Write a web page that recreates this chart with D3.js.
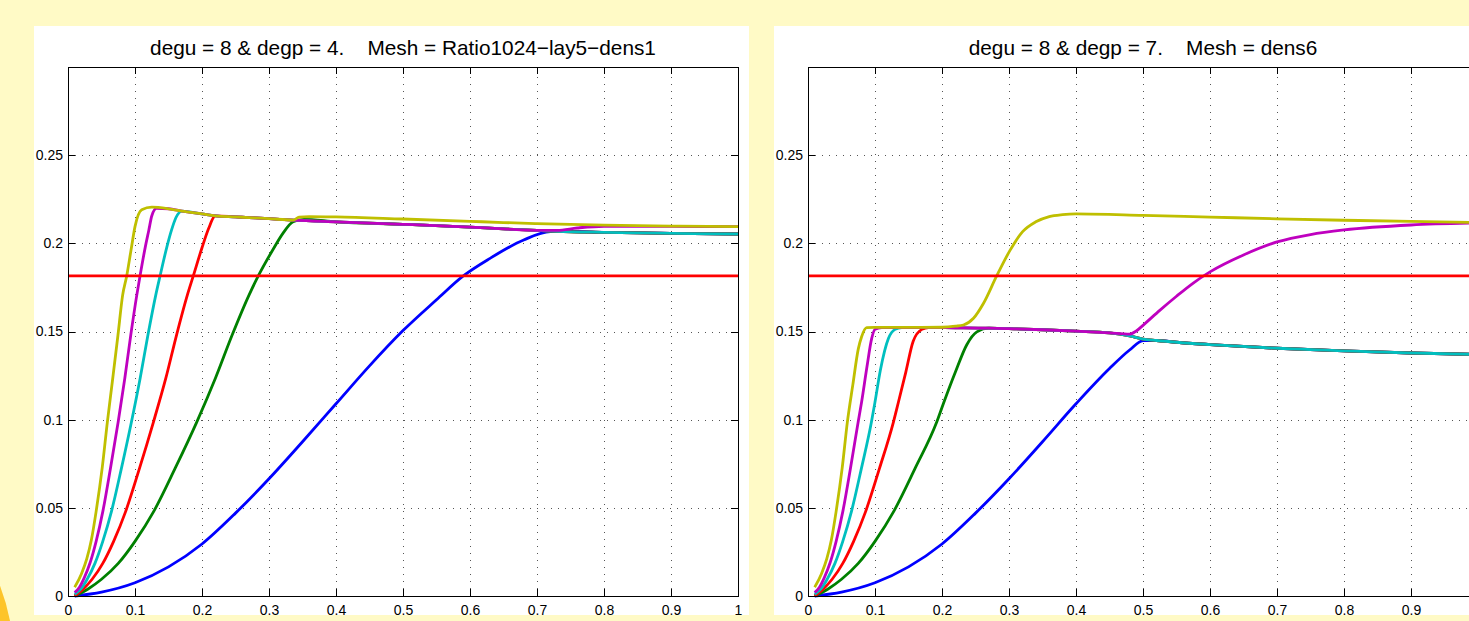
<!DOCTYPE html>
<html>
<head>
<meta charset="utf-8">
<script src="https://cdn.jsdelivr.net/npm/d3@7"></script>
<style>
  body { margin: 0; background: #fffac6; overflow: hidden; }
  svg { display: block; }
  text { font-family: "Liberation Sans", Arial, Helvetica, sans-serif; fill: #000; }
  .grid line { stroke: #555; stroke-dasharray: 1,6; shape-rendering: crispEdges; }
  .grid path { display: none; }
  .ax path { display: none; }
  .ax line { stroke: #000; shape-rendering: crispEdges; }
</style>
</head>
<body>
<div id="fig"></div>
<script>
// axis ticks
var xTicks = [0, 0.1, 0.2, 0.3, 0.4, 0.5, 0.6, 0.7, 0.8, 0.9, 1];
var xTickLabels = ["0", "0.1", "0.2", "0.3", "0.4", "0.5", "0.6", "0.7", "0.8", "0.9", "1"];
var yTicks = [0, 0.05, 0.1, 0.15, 0.2, 0.25];
var yTickLabels = ["0", "0.05", "0.1", "0.15", "0.2", "0.25"];
var yMax = 0.3;
var refLevel = 0.1815;

var titles = [
  "degu = 8 & degp = 4.    Mesh = Ratio1024\u2212lay5\u2212dens1",
  "degu = 8 & degp = 7.    Mesh = dens6"
];
var seriesColors = ["#0000ff", "#008000", "#ff0000", "#00bfbf", "#bf00bf", "#bfbf00"];

// ---- left panel (degp = 4) ----
var blueL = [[0.01,0],[0.05,0.0022],[0.1,0.0075],[0.15,0.0165],[0.2,0.0295],[0.25,0.047],[0.3,0.0665],
  [0.35,0.0875],[0.4,0.109],[0.45,0.1305],[0.5,0.1505],[0.55,0.168],[0.59,0.1815],[0.63,0.1915],
  [0.68,0.2019],[0.72,0.2066],[0.75,0.2067],[0.8,0.2062],[0.9,0.2057],[1.0,0.2053]];
var greenRiseL = [[0.01,0],[0.03,0.004],[0.05,0.0095],[0.075,0.0185],[0.1,0.031],[0.128,0.048],[0.16,0.0725],
  [0.192,0.0985],[0.22,0.1235],[0.245,0.148],[0.27,0.1705],[0.284,0.1815],[0.306,0.1965],[0.321,0.2058],
  [0.336,0.2122],[0.352,0.2136]];
var redRiseL = [[0.01,0],[0.0229,0.004],[0.036,0.0095],[0.0519,0.0185],[0.0681,0.031],[0.0861,0.048],
  [0.1068,0.0725],[0.1274,0.0985],[0.146,0.1235],[0.162,0.148],[0.178,0.1705],[0.187,0.1815],[0.2,0.1975],
  [0.21,0.2085],[0.219,0.2155]];
var cyanRiseL = [[0.01,0.001],[0.0193,0.004],[0.0286,0.0095],[0.0402,0.0185],[0.0519,0.031],[0.0649,0.048],
  [0.0798,0.0725],[0.0946,0.0985],[0.1077,0.1235],[0.1193,0.148],[0.1309,0.1705],[0.1374,0.1815],[0.1476,0.198],
  [0.1546,0.2076],[0.161,0.2145],[0.17,0.2183]];
var magentaRiseL = [[0.01,0.002],[0.0171,0.005],[0.0242,0.0103],[0.0331,0.019],[0.042,0.031],[0.052,0.048],
  [0.0634,0.0725],[0.0748,0.0985],[0.0848,0.1235],[0.0937,0.148],[0.1026,0.1705],[0.1075,0.1815],[0.1154,0.198],
  [0.1207,0.2076],[0.125,0.2155],[0.132,0.2198]];
var yellowRiseL = [[0.01,0.005],[0.02,0.0125],[0.028,0.021],[0.035,0.032],[0.042,0.048],[0.051,0.0725],
  [0.0587,0.0985],[0.0668,0.1235],[0.0746,0.148],[0.0815,0.1705],[0.0876,0.1815],[0.094,0.196],[0.1,0.2095],
  [0.11,0.219],[0.125,0.2205]];
var envL = [[0.15,0.2196],[0.17,0.2183],[0.2,0.2167],[0.22,0.2156],[0.25,0.215],[0.27,0.2146],[0.3,0.214],[0.336,0.2132]];
var lowTailL = [[0.4,0.2122],[0.5,0.2108],[0.6,0.2092],[0.65,0.2082],[0.7,0.2074],[0.73,0.2068],[0.8,0.2062],[0.9,0.2057],[1.0,0.2053]];
var magentaTailL = [[0.4,0.2122],[0.5,0.2108],[0.6,0.2092],[0.65,0.2082],[0.7,0.2074],[0.73,0.2074],[0.76,0.2087],[0.8,0.2097],[0.9,0.2096],[1.0,0.2095]];
var yellowTailL = [[0.345,0.2148],[0.36,0.2152],[0.4,0.215],[0.5,0.2138],[0.6,0.2125],[0.65,0.2118],[0.7,0.2112],[0.8,0.2103],[0.9,0.2098],[1.0,0.2095]];

// ---- right panel (degp = 7) ----
var blueR = [[0.01,0],[0.05,0.0022],[0.1,0.0075],[0.15,0.0165],[0.2,0.0295],[0.25,0.047],[0.3,0.0665],
  [0.35,0.0875],[0.4,0.109],[0.45,0.129],[0.48,0.1395],[0.5,0.1448],[0.52,0.1449]];
var greenRiseR = [[0.01,0],[0.03,0.004],[0.05,0.0095],[0.075,0.0185],[0.1,0.031],[0.128,0.048],[0.16,0.0725],
  [0.192,0.0985],[0.202,0.109],[0.22,0.127],[0.237,0.1425],[0.252,0.1498],[0.27,0.1519]];
var redRiseR = [[0.01,0],[0.0229,0.004],[0.036,0.0095],[0.0519,0.0185],[0.0681,0.031],[0.0861,0.048],
  [0.1068,0.0725],[0.1274,0.0985],[0.135,0.11],[0.146,0.127],[0.157,0.1445],[0.17,0.1512],[0.18,0.1522]];
var cyanRiseR = [[0.01,0.001],[0.0193,0.004],[0.0286,0.0095],[0.0402,0.0185],[0.0519,0.031],[0.0649,0.048],
  [0.0798,0.0725],[0.0946,0.0985],[0.1,0.11],[0.108,0.128],[0.12,0.146],[0.13,0.1512],[0.14,0.1522]];
var magentaRiseR = [[0.01,0.002],[0.0171,0.005],[0.0242,0.0103],[0.0331,0.019],[0.042,0.031],[0.052,0.048],
  [0.0634,0.0725],[0.0748,0.0985],[0.08,0.11],[0.088,0.13],[0.095,0.146],[0.1,0.1512],[0.11,0.1522]];
var yellowR = [[0.01,0.005],[0.02,0.0125],[0.028,0.021],[0.035,0.032],[0.042,0.048],[0.051,0.0725],
  [0.0587,0.0985],[0.067,0.12],[0.075,0.14],[0.08,0.147],[0.0876,0.1522],[0.1,0.1523],[0.15,0.1523],
  [0.2,0.1524],[0.22,0.153],[0.232,0.1537],[0.247,0.1575],[0.262,0.166],[0.2816,0.1815],[0.3015,0.196],
  [0.32,0.2065],[0.34,0.2122],[0.36,0.2152],[0.38,0.2163],[0.4,0.2167],[0.5,0.2159],[0.6,0.2149],
  [0.7,0.2139],[0.8,0.2131],[0.9,0.2124],[1.0,0.2118]];
var envR = [[0.14,0.1522],[0.18,0.1522],[0.22,0.1521],[0.27,0.1519],[0.3,0.1516],[0.35,0.151],[0.4,0.1502],[0.45,0.1492]];
var lowTailR = [[0.48,0.1475],[0.5,0.1457],[0.52,0.1449],[0.55,0.1439],[0.6,0.1426],[0.7,0.1405],[0.8,0.139],[0.9,0.1378],[1.0,0.137]];
var magentaTailR = [[0.48,0.1485],[0.49,0.1503],[0.5,0.1535],[0.525,0.162],[0.55,0.17],[0.575,0.1775],[0.6,0.1838],
  [0.65,0.1934],[0.7,0.2008],[0.75,0.205],[0.8,0.2076],[0.9,0.2104],[1.0,0.2115]];

var fig = {};
(function(context) {

    var W = 1469, H = 621;
    var svg;

    // join a rising part onto the shared envelope and tail
    function after(arr, x0) {
        return arr.filter(function(p) { return p[0] > x0; });
    }
    function build(rise, env, tail) {
        var last = rise[rise.length - 1][0];
        var out = rise.concat(after(env, last));
        var end = out[out.length - 1][0];
        return out.concat(after(tail, end));
    }

    context.init = function(name) {
        svg = d3.select(name).append("svg")
            .attr("width", W)
            .attr("height", H);

        svg.append("rect").attr("width", W).attr("height", H).attr("fill", "#fffac6");
        // gold blob in the bottom-left corner
        svg.append("circle").attr("cx", -200).attr("cy", 662).attr("r", 214).attr("fill", "#fdc42a");
    };

    context.panel = function(box, title, series) {
        var g = svg.append("g");

        g.append("rect")
            .attr("x", box.bx0).attr("y", box.by0)
            .attr("width", box.bx1 - box.bx0).attr("height", box.by1 - box.by0)
            .attr("fill", "#fff");

        var x = d3.scaleLinear().domain([0, 1]).range([box.left, box.right]);
        var y = d3.scaleLinear().domain([0, yMax]).range([box.bottom, box.top]);
        var w = box.right - box.left, h = box.bottom - box.top;

        // dotted grid
        g.append("g").attr("class", "grid")
            .attr("transform", "translate(0," + box.bottom + ")")
            .call(d3.axisBottom(x).tickValues(xTicks.slice(1, -1)).tickSize(-h).tickFormat(""));
        g.append("g").attr("class", "grid")
            .attr("transform", "translate(" + box.left + ",0)")
            .call(d3.axisLeft(y).tickValues(yTicks.slice(1)).tickSize(-w).tickFormat(""));

        var line = d3.line()
            .x(function(d) { return x(d[0]); })
            .y(function(d) { return y(d[1]); })
            .curve(d3.curveMonotoneX);

        g.selectAll("path.curve")
            .data(series)
            .enter()
            .append("path")
            .attr("class", "curve")
            .attr("d", line)
            .attr("fill", "none")
            .attr("stroke", function(d, i) { return seriesColors[i]; })
            .attr("stroke-width", 2.8)
            .attr("stroke-linejoin", "round");

        g.append("path")
            .attr("d", line([[0, refLevel], [1, refLevel]]))
            .attr("fill", "none")
            .attr("stroke", "#ff0000")
            .attr("stroke-width", 2.8);

        // box with inward ticks on all sides
        var xAx = g.append("g").attr("class", "ax")
            .attr("transform", "translate(0," + box.bottom + ")")
            .call(d3.axisBottom(x).tickValues(xTicks)
                .tickFormat(function(d, i) { return xTickLabels[i]; })
                .tickSizeInner(-7).tickSizeOuter(0).tickPadding(9));
        var yAx = g.append("g").attr("class", "ax")
            .attr("transform", "translate(" + box.left + ",0)")
            .call(d3.axisLeft(y).tickValues(yTicks)
                .tickFormat(function(d, i) { return yTickLabels[i]; })
                .tickSizeInner(-7).tickSizeOuter(0).tickPadding(5));
        g.append("g").attr("class", "ax")
            .attr("transform", "translate(0," + box.top + ")")
            .call(d3.axisTop(x).tickValues(xTicks).tickFormat("").tickSizeInner(-7).tickSizeOuter(0));
        g.append("g").attr("class", "ax")
            .attr("transform", "translate(" + box.right + ",0)")
            .call(d3.axisRight(y).tickValues(yTicks).tickFormat("").tickSizeInner(-7).tickSizeOuter(0));

        xAx.selectAll("text").style("font-size", "14px")
            .style("font-family", "'Liberation Sans', Arial, sans-serif");
        yAx.selectAll("text").style("font-size", "14px")
            .style("font-family", "'Liberation Sans', Arial, sans-serif");
        // labels past the window edge are not shown in the figure
        xAx.selectAll(".tick").filter(function(d) { return x(d) + 4 > W; }).select("text").remove();

        g.append("rect")
            .attr("x", box.left + 0.5).attr("y", box.top + 0.5)
            .attr("width", w).attr("height", h)
            .attr("fill", "none").attr("stroke", "#000").attr("stroke-width", 1);

        g.append("text")
            .attr("x", (box.left + box.right) / 2)
            .attr("y", 55)
            .attr("text-anchor", "middle")
            .style("font-size", "20.8px")
            .style("white-space", "pre")
            .attr("xml:space", "preserve")
            .text(title);
    };

    context.build = build;

})(fig);

fig.init("#fig");

fig.panel({ bx0: 34, by0: 26, bx1: 749, by1: 615, left: 68, right: 738, top: 67, bottom: 596 },
    titles[0],
    [blueL,
     fig.build(greenRiseL, envL, lowTailL),
     fig.build(redRiseL, envL, lowTailL),
     fig.build(cyanRiseL, envL, lowTailL),
     fig.build(magentaRiseL, envL, magentaTailL),
     fig.build(yellowRiseL, envL, yellowTailL)]);

fig.panel({ bx0: 774, by0: 26, bx1: 1500, by1: 615, left: 808, right: 1478, top: 67, bottom: 596 },
    titles[1],
    [fig.build(blueR, [], lowTailR),
     fig.build(greenRiseR, envR, lowTailR),
     fig.build(redRiseR, envR, lowTailR),
     fig.build(cyanRiseR, envR, lowTailR),
     fig.build(magentaRiseR, envR, magentaTailR),
     yellowR]);
</script>
</body>
</html>
